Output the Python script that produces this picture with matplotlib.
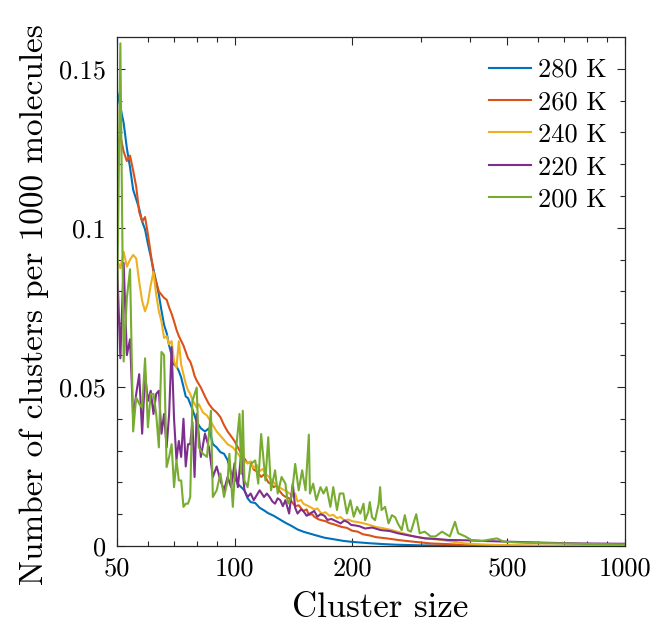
import matplotlib
matplotlib.use("Agg")
import matplotlib.pyplot as plt
from matplotlib.ticker import FixedLocator, FixedFormatter, NullFormatter

plt.rcParams['font.family'] = ['cmr10', 'DejaVu Serif']
plt.rcParams['mathtext.fontset'] = 'cm'
plt.rcParams['axes.unicode_minus'] = False

# ---------------- data ----------------
n_280 = [50, 51, 52, 53, 54, 55, 56, 57, 58, 59, 60, 61, 62, 63, 64, 65, 66, 67, 68, 69,
         70, 71, 72, 73, 74, 75, 76, 78, 80, 82, 84, 86, 88, 90, 92, 94, 96, 98, 100,
         102, 104, 106, 108, 110, 113, 116, 119, 122, 126, 130, 135, 140, 145, 150,
         160, 170, 180, 190, 200, 220, 240, 260, 300, 350, 400, 1000]
v_280 = [0.143, 0.138, 0.133, 0.125, 0.119, 0.112, 0.109, 0.106, 0.102, 0.0995, 0.095,
         0.091, 0.087, 0.083, 0.079, 0.074, 0.0695, 0.067, 0.063, 0.060, 0.057, 0.0565,
         0.055, 0.053, 0.050, 0.047, 0.0465, 0.043, 0.039, 0.037, 0.036, 0.037, 0.032,
         0.031, 0.0295, 0.029, 0.027, 0.023, 0.0215, 0.0195, 0.0185, 0.0175, 0.0150,
         0.0138, 0.0135, 0.0120, 0.0112, 0.0103, 0.0095, 0.0085, 0.0073, 0.0063, 0.0052,
         0.0045, 0.0035, 0.0026, 0.0021, 0.0016, 0.0013, 0.0009, 0.0006, 0.0004, 0.0002,
         0.0001, 0.0, 0.0]

n_260 = [50, 51, 52, 53, 54, 55, 56, 57, 58, 59, 60, 61, 62, 63, 64, 65, 66, 67, 68, 69,
         70, 71, 72, 73, 74, 75, 76, 77, 78, 79, 80, 82, 84, 86, 88, 90, 92, 94, 96, 98,
         100, 102, 104, 106, 108, 110, 112, 114, 117, 119, 122, 124, 126, 128, 130, 133,
         135, 138, 140, 143, 146, 150, 153, 155, 158, 160, 164, 167, 171, 175, 180, 188,
         194, 200, 207, 213, 222, 230, 245, 262, 275, 290, 318, 350, 390, 450, 500, 700,
         1000]
v_260 = [0.126, 0.129, 0.124, 0.121, 0.1227, 0.118, 0.113, 0.105, 0.102, 0.1034, 0.098,
         0.092, 0.086, 0.083, 0.080, 0.079, 0.078, 0.0774, 0.075, 0.073, 0.0706, 0.068,
         0.066, 0.0645, 0.063, 0.061, 0.059, 0.058, 0.056, 0.0535, 0.052, 0.0498, 0.047,
         0.0446, 0.043, 0.042, 0.0405, 0.038, 0.036, 0.0345, 0.033, 0.031, 0.029, 0.0275,
         0.026, 0.0265, 0.024, 0.0235, 0.0217, 0.0225, 0.020, 0.0195, 0.0185, 0.019,
         0.0175, 0.016, 0.0155, 0.0150, 0.014, 0.0125, 0.0128, 0.011, 0.0115, 0.0098,
         0.0100, 0.0092, 0.0084, 0.0081, 0.0078, 0.0072, 0.0068, 0.006, 0.0057, 0.0048,
         0.0045, 0.0037, 0.0033, 0.0028, 0.0024, 0.0019, 0.0016, 0.0013, 0.0008, 0.0006,
         0.0003, 0.0002, 0.0001, 0.0, 0.0]

n_240 = [50, 51, 52, 53, 54, 55, 56, 57, 58, 59, 60, 61, 62, 63, 64, 65, 66, 67, 68, 69,
         70, 71, 72, 73, 74, 75, 76, 77, 78, 80, 81, 83, 85, 87, 90, 93, 96, 99, 102,
         105, 108, 110, 112, 114, 116, 118, 120, 124, 128, 132, 136, 140, 143, 145, 148,
         150, 155, 160, 163, 167, 171, 175, 179, 183, 187, 191, 196, 200, 207, 213, 222,
         230, 240, 253, 270, 290, 310, 339, 360, 390, 430, 472, 600, 1000]
v_240 = [0.090, 0.0873, 0.0925, 0.0878, 0.090, 0.0915, 0.0904, 0.083, 0.077, 0.0738,
         0.0765, 0.082, 0.0862, 0.079, 0.0738, 0.0706, 0.0654, 0.066, 0.0634, 0.0644,
         0.058, 0.056, 0.0644, 0.057, 0.054, 0.051, 0.049, 0.0478, 0.046, 0.0435, 0.0446,
         0.042, 0.041, 0.039, 0.036, 0.034, 0.032, 0.031, 0.029, 0.027, 0.026, 0.0265,
         0.0245, 0.0255, 0.0235, 0.0242, 0.0228, 0.021, 0.019, 0.018, 0.0172, 0.016,
         0.0165, 0.014, 0.0145, 0.0133, 0.0125, 0.0115, 0.0118, 0.0102, 0.0106, 0.0095,
         0.0098, 0.0088, 0.0091, 0.0081, 0.0083, 0.0078, 0.0075, 0.0072, 0.0066, 0.006,
         0.0056, 0.005, 0.004, 0.0029, 0.0024, 0.0019, 0.0014, 0.0008, 0.0005, 0.0003,
         0.0001, 0.0]

n_220 = [50, 51, 52, 53, 54, 55, 56, 57, 58, 59, 60, 61, 62, 63, 64, 65, 66, 67, 68, 69,
         70, 71, 72, 73, 74, 75, 76, 77, 78, 79, 80, 82, 84, 86, 88, 90, 92, 94, 96, 98,
         100, 102, 104, 106, 108, 110, 112, 114, 116, 119, 121, 123, 125, 127, 129, 131,
         133, 135, 138, 141, 143, 145, 148, 150, 153, 156, 160, 163, 166, 170, 173, 177,
         182, 187, 191, 195, 199, 203, 209, 216, 225, 237, 250, 262, 280, 307, 330, 352,
         390, 430, 521, 636, 775, 1000]
v_220 = [0.090, 0.059, 0.089, 0.060, 0.065, 0.040, 0.0478, 0.054, 0.0353, 0.054, 0.0456,
         0.0488, 0.0415, 0.0478, 0.0488, 0.0353, 0.0415, 0.031, 0.0415, 0.0625, 0.040,
         0.027, 0.033, 0.028, 0.040, 0.025, 0.032, 0.032, 0.039, 0.0217, 0.0415, 0.028,
         0.0353, 0.031, 0.0217, 0.025, 0.0206, 0.0175, 0.0217, 0.0185, 0.026, 0.0185,
         0.029, 0.0175, 0.0154, 0.0165, 0.0144, 0.0160, 0.0175, 0.0154, 0.0165, 0.0154,
         0.0140, 0.0133, 0.0150, 0.0144, 0.0125, 0.0144, 0.0102, 0.0196, 0.0120, 0.0102,
         0.0115, 0.0110, 0.0095, 0.0102, 0.0110, 0.0092, 0.0100, 0.0095, 0.0082, 0.0085,
         0.0078, 0.0071, 0.0080, 0.0075, 0.0066, 0.0065, 0.0062, 0.0055, 0.0058, 0.005,
         0.0047, 0.004, 0.0033, 0.0024, 0.0022, 0.0019, 0.0018, 0.0016, 0.0013, 0.001,
         0.0008, 0.0007]

n_200 = [50, 51, 52, 53, 54, 55, 56, 57, 58, 59, 60, 61, 62, 63, 64, 65, 66, 67, 68, 69,
         70, 71, 72, 73, 74, 75, 76, 77, 78, 80, 81, 83, 85, 87, 88, 90, 92, 94, 96, 97,
         99, 101, 103, 104, 105, 106, 108, 110, 113, 115, 117, 120, 122, 124, 127, 129,
         132, 135, 137, 140, 143, 146, 149, 152, 155, 156, 159, 162, 166, 169, 172, 176,
         179, 183, 186, 190, 194, 198, 202, 206, 210, 214, 216, 220, 222, 225, 229, 234,
         236, 238, 243, 248, 253, 258, 262, 268, 273, 278, 283, 292, 298, 307, 318, 327,
         340, 356, 367, 374, 390, 404, 430, 470, 490, 560, 700, 850, 1000]
v_200 = [0.0706, 0.158, 0.058, 0.078, 0.087, 0.036, 0.0467, 0.0447, 0.0435, 0.059,
         0.0373, 0.0478, 0.0478, 0.0415, 0.031, 0.061, 0.060, 0.0248, 0.028, 0.032,
         0.0185, 0.027, 0.0206, 0.0206, 0.0123, 0.0133, 0.0133, 0.0154, 0.0456, 0.0498,
         0.031, 0.029, 0.028, 0.0425, 0.0154, 0.0175, 0.0228, 0.0154, 0.0206, 0.029,
         0.0123, 0.031, 0.0415, 0.0227, 0.0425, 0.0206, 0.0185, 0.0258, 0.0269, 0.0196,
         0.0352, 0.0206, 0.0342, 0.0175, 0.0238, 0.0165, 0.0217, 0.0196, 0.0133, 0.0154,
         0.0258, 0.0175, 0.0238, 0.0175, 0.035, 0.0165, 0.0196, 0.0144, 0.0185, 0.0165,
         0.0185, 0.0123, 0.0185, 0.0113, 0.0165, 0.0165, 0.0102, 0.0144, 0.0092, 0.0123,
         0.0102, 0.0133, 0.0081, 0.0107, 0.0138, 0.009, 0.0081, 0.0133, 0.0185, 0.0113,
         0.0123, 0.0071, 0.0097, 0.009, 0.0071, 0.005, 0.0097, 0.005, 0.0045, 0.010,
         0.004, 0.0045, 0.003, 0.003, 0.0045, 0.003, 0.0076, 0.004, 0.003, 0.0019,
         0.0016, 0.0024, 0.0013, 0.001, 0.0008, 0.0006, 0.0005]

labels = ['280 K', '260 K', '240 K', '220 K', '200 K']
colors = ['#0072BD', '#D95319', '#EDB120', '#7E2F8E', '#77AC30']

x_ticks = [50, 100, 200, 500, 1000]
x_ticklabels = ['50', '100', '200', '500', '1000']
y_ticks = [0, 0.05, 0.1, 0.15]
y_ticklabels = ['0', '0.05', '0.1', '0.15']

# ---------------- figure ----------------
fig = plt.figure(figsize=(6.58, 6.26), dpi=100)
ax = fig.add_axes([0.1778, 0.1278, 0.772, 0.8131])

series = [(n_280, v_280), (n_260, v_260), (n_240, v_240), (n_220, v_220), (n_200, v_200)]
for (n, v), lab, c in zip(series, labels, colors):
    ax.plot(n, v, color=c, lw=1.5, label=lab)

ax.set_xscale('log')
ax.set_xlim(50, 1000)
ax.set_ylim(0, 0.16)

ax.xaxis.set_major_locator(FixedLocator(x_ticks))
ax.xaxis.set_major_formatter(FixedFormatter(x_ticklabels))
ax.xaxis.set_minor_locator(FixedLocator([60, 70, 80, 90, 300, 400, 600, 700, 800, 900]))
ax.xaxis.set_minor_formatter(NullFormatter())
ax.yaxis.set_major_locator(FixedLocator(y_ticks))
ax.yaxis.set_major_formatter(FixedFormatter(y_ticklabels))
ax.yaxis.set_minor_locator(FixedLocator([0.01, 0.02, 0.03, 0.04, 0.06, 0.07, 0.08, 0.09,
                                         0.11, 0.12, 0.13, 0.14]))

ax.tick_params(which='both', direction='in', top=True, right=True, width=0.8,
               color='#262626')
ax.tick_params(which='major', length=6, labelsize=19, pad=8)
ax.tick_params(which='minor', length=3.5)
for s in ax.spines.values():
    s.set_linewidth(0.9)
    s.set_color('#262626')

ax.set_xlabel('Cluster size', fontsize=25)
ax.set_ylabel('Number of clusters per 1000 molecules', fontsize=24)
ax.xaxis.set_label_coords(0.518, -0.092)
ax.yaxis.set_label_coords(-0.134, 0.475)

leg = ax.legend(loc='upper right', frameon=False, fontsize=19, handlelength=1.6,
                handletextpad=0.25, labelspacing=0.33, borderaxespad=0.3,
                bbox_to_anchor=(1.0, 0.995))
for line in leg.get_lines():
    line.set_linewidth(1.5)

fig.savefig('out.png', dpi=100)
